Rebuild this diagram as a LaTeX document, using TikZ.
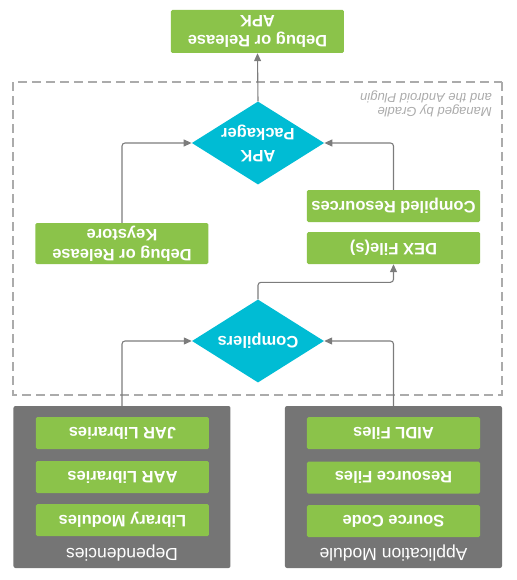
\documentclass[tikz,border=0pt]{standalone}
\usepackage{fontspec}
\setmainfont{Liberation Sans}
\usetikzlibrary{arrows.meta, shapes.geometric}

\definecolor{leaf}{HTML}{8BC34A}
\definecolor{toolcyan}{HTML}{00BCD4}
\definecolor{slab}{HTML}{757575}
\definecolor{wire}{HTML}{7C7C7C}
\definecolor{fence}{HTML}{ABABAB}

\tikzset{
  file/.style={fill=leaf, rounded corners=1.5pt, text=white, inner sep=0pt,
    font=\bfseries\fontsize{16.5}{20}\selectfont, align=center,
    minimum width=173pt, minimum height=32pt},
  tool/.style={diamond, aspect=1.6, fill=toolcyan, text=white, inner sep=0pt,
    font=\bfseries\fontsize{16.5}{22}\selectfont, align=center,
    minimum width=132pt, minimum height=83pt},
  module/.style={fill=slab, rounded corners=2pt, minimum width=217pt,
    minimum height=162pt, inner sep=0pt},
  caption/.style={text=white, font=\fontsize{17.5}{20}\selectfont, inner sep=0pt},
  flow/.style={draw=wire, line width=1.1pt, rounded corners=3pt,
    -{Triangle[length=8pt,width=7pt]}}
}

\begin{document}
\begin{tikzpicture}[x=1pt, y=1pt, rotate=180, transform shape]
    \useasboundingbox (0,0) rectangle (516,580);

    \draw[fence, line width=1.5pt, dash pattern=on 9pt off 5pt] (14,82) rectangle (503,395);
    \node[text=fence, font=\itshape\fontsize{13}{14.5}\selectfont, align=left, inner sep=0pt]
        (managed) at (90,104) {Managed by Gradle\\and the Android Plugin};

    \node[module] (appmod) at (122.5,487) {};
    \node[caption] (appname) at (122.5,553) {Application Module};
    \node[file] (aidl) at (122.5,433) {AIDL Files};
    \node[file] (resfiles) at (122.5,477.5) {Resource Files};
    \node[file] (source) at (122.5,521) {Source Code};

    \node[module] (deps) at (394,487) {};
    \node[caption] (depsname) at (394,553) {Dependencies};
    \node[file] (jar) at (393.5,433) {JAR Libraries};
    \node[file] (aar) at (393.5,477) {AAR Libraries};
    \node[file] (libmod) at (393.5,520) {Library Modules};

    \node[tool] (compilers) at (258,341) {Compilers};
    \node[file] (dex) at (122.5,248) {DEX File(s)};
    \node[file] (resources) at (122.5,206) {Compiled Resources};
    \node[file, minimum height=41pt] (keystore) at (394,243.5) {Debug or Release\\Keystore};
    \node[tool] (packager) at (258,143) {APK\\Packager};
    \node[file, minimum height=43pt] (apk) at (258.5,31.5) {Debug or Release\\APK};

    \draw[flow] (appmod.south) |- (compilers.west);
    \draw[flow] (deps.south) |- (compilers.east);
    \draw[flow] (compilers.south) -- ++(0,-17) -| (dex.north);
    \draw[flow] (resources.south) |- (packager.west);
    \draw[flow] (keystore.south) |- (packager.east);
    \draw[flow] (packager.south) -- (apk.north);
\end{tikzpicture}
\end{document}
